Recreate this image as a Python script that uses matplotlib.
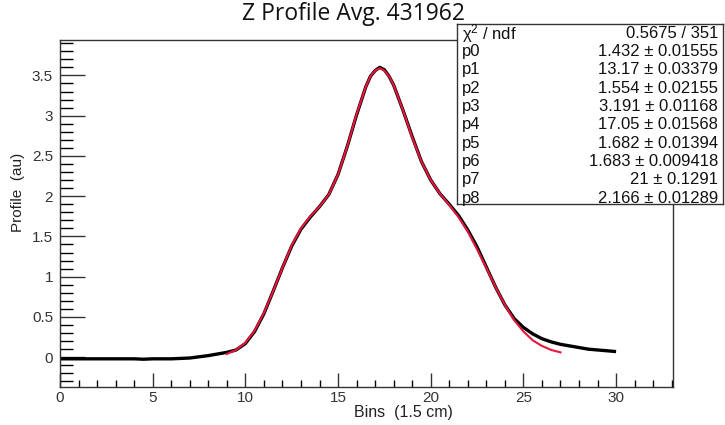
import matplotlib
matplotlib.use("Agg")
import matplotlib.pyplot as plt
from matplotlib.ticker import MultipleLocator

# profile (black)
x_data = [0, 0.5, 1, 1.5, 2, 2.5, 3, 3.5, 4, 4.5, 5, 5.5, 6, 6.5, 7, 7.5, 8, 8.5,
          9, 9.5, 10, 10.5, 11, 11.5, 12, 12.5, 13, 13.5, 14, 14.5, 15, 15.5, 16,
          16.5, 16.75, 17, 17.25, 17.5, 17.75, 18, 18.5, 19, 19.5, 20, 20.5, 21,
          21.5, 22, 22.5, 23, 23.5, 24, 24.5, 25, 25.5, 26, 26.5, 27, 27.5, 28,
          28.5, 29, 29.5, 30]
y_data = [-0.02, -0.02, -0.02, -0.02, -0.02, -0.02, -0.02, -0.02, -0.02, -0.025,
          -0.02, -0.02, -0.02, -0.015, -0.01, 0.005, 0.02, 0.04,
          0.06, 0.09, 0.17, 0.32, 0.54, 0.82, 1.11, 1.38, 1.59, 1.74, 1.87, 2.02,
          2.27, 2.62, 3.01, 3.36, 3.49, 3.56, 3.6, 3.57, 3.49, 3.38, 3.07, 2.74,
          2.43, 2.2, 2.03, 1.9, 1.76, 1.58, 1.37, 1.12, 0.87, 0.65, 0.48, 0.37,
          0.29, 0.23, 0.19, 0.16, 0.14, 0.12, 0.1, 0.09, 0.08, 0.07]

# fit (red)
x_fit = [9, 9.5, 10, 10.5, 11, 11.5, 12, 12.5, 13, 13.5, 14, 14.5, 15, 15.5, 16,
         16.5, 16.75, 17, 17.25, 17.5, 17.75, 18, 18.5, 19, 19.5, 20, 20.5, 21,
         21.5, 22, 22.5, 23, 23.5, 24, 24.5, 25, 25.5, 26, 26.5, 27]
y_fit = [0.04, 0.09, 0.18, 0.33, 0.55, 0.82, 1.11, 1.39, 1.6, 1.75, 1.87, 2.02,
         2.27, 2.62, 3.02, 3.36, 3.49, 3.56, 3.59, 3.56, 3.49, 3.38, 3.07, 2.73,
         2.43, 2.2, 2.03, 1.89, 1.74, 1.56, 1.34, 1.11, 0.87, 0.65, 0.46, 0.32,
         0.21, 0.14, 0.09, 0.06]

stat_names = ["\u03c7$^2$ / ndf", "p0", "p1", "p2", "p3", "p4", "p5", "p6", "p7", "p8"]
stat_values = ["0.5675 / 351", "1.432 \u00b1 0.01555", "13.17 \u00b1 0.03379",
               "1.554 \u00b1 0.02155", "3.191 \u00b1 0.01168", "17.05 \u00b1 0.01568",
               "1.682 \u00b1 0.01394", "1.683 \u00b1 0.009418", "21 \u00b1 0.1291",
               "2.166 \u00b1 0.01289"]

plt.rcParams['font.family'] = ['Liberation Sans', 'DejaVu Sans']
plt.rcParams['mathtext.fontset'] = 'custom'
plt.rcParams['mathtext.rm'] = 'Liberation Sans'
plt.rcParams['mathtext.it'] = 'Liberation Sans'

W, H = 725, 425
fig = plt.figure(figsize=(7.25, 4.25), dpi=100)
fig.patch.set_facecolor("white")

ax = fig.add_axes([60 / W, 1 - 387 / H, 613 / W, 347 / H])
ax.plot(x_data, y_data, color="black", lw=2.4, solid_capstyle="butt")
ax.plot(x_fit, y_fit, color="#e8153c", lw=1.5)

ax.set_xlim(0, 33.07)
ax.set_ylim(-0.37, 3.94)
ax.xaxis.set_major_locator(MultipleLocator(5))
ax.xaxis.set_minor_locator(MultipleLocator(1))
ax.yaxis.set_minor_locator(MultipleLocator(0.1))
ax.set_yticks([0, 0.5, 1, 1.5, 2, 2.5, 3, 3.5])
ax.set_yticklabels(["0", "0.5", "1", "1.5", "2", "2.5", "3", "3.5"])
ax.tick_params(axis="x", which="major", direction="in", length=10, width=1, labelsize=11, pad=3, colors="#333333")
ax.tick_params(axis="x", which="minor", direction="in", length=5, width=1)
ax.tick_params(axis="y", which="major", direction="in", length=18, width=1, labelsize=11, pad=5, colors="#333333")
ax.tick_params(axis="y", which="minor", direction="in", length=9, width=1)
for s in ax.spines.values():
    s.set_color("#333333")
    s.set_linewidth(1.0)

fig.text(403 / W, 1 - 413 / H, "Bins  (1.5 cm)", ha="center", va="center", fontsize=11.5, color="#222222")
fig.text(18 / W, 1 - 192 / H, "Profile  (au)", ha="center", va="center", rotation=90, fontsize=11, color="#222222")
fig.text(354 / W, 1 - 20.5 / H, "Z Profile Avg. 431962", ha="center", va="baseline",
         fontsize=16.5, family="Open Sans", color="#111111")

# stats box
box = fig.add_axes([457 / W, 1 - 204 / H, 266 / W, 180 / H])
box.set_xlim(457, 723)
box.set_ylim(204, 24)
box.set_xticks([])
box.set_yticks([])
box.set_facecolor("white")
for s in box.spines.values():
    s.set_color("#333333")
    s.set_linewidth(1.0)
for i in range(len(stat_names)):
    yc = 33.3 + 18.3 * i
    box.text(462, yc, stat_names[i], ha="left", va="center", fontsize=12, color="#111111")
    box.text(718, yc, stat_values[i], ha="right", va="center", fontsize=12, color="#111111")

fig.savefig("out.png", dpi=100, facecolor="white")
